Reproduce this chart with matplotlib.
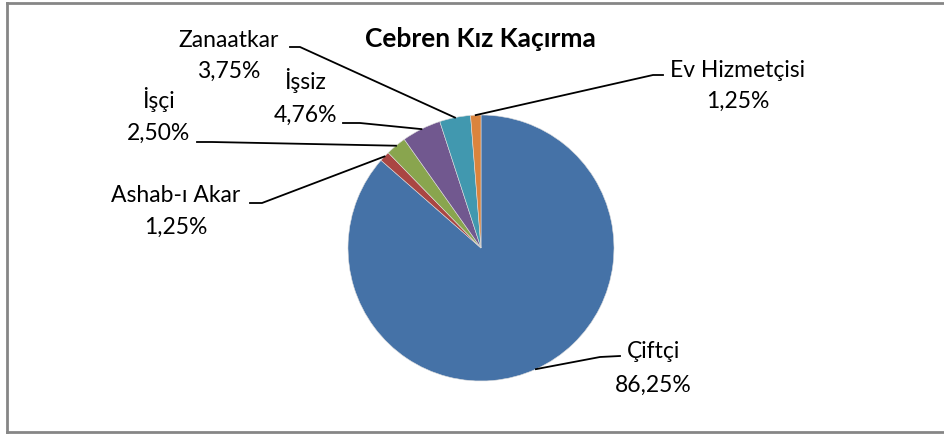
import numpy as np
import matplotlib
matplotlib.use("Agg")
import matplotlib.pyplot as plt
from matplotlib.lines import Line2D

# ---- data ----
categories = ["Çiftçi", "Ashab-ı Akar", "İşçi", "İşsiz", "Zanaatkar", "Ev Hizmetçisi"]
values = [86.25, 1.25, 2.50, 4.76, 3.75, 1.25]
colors = ["#4572A7", "#AA4643", "#89A54E", "#71588F", "#4198AF", "#DB843D"]
title = "Cebren Kız Kaçırma"

W, H = 944, 434
fig = plt.figure(figsize=(W / 100, H / 100), dpi=100)
FONT = "Lato"
FS = 16.5

# pie axes: centre (481, 248) px from top-left, radius 133 px
cx, cy, r = 481, 248, 133
ax = fig.add_axes([(cx - r) / W, (H - cy - r) / H, 2 * r / W, 2 * r / H])
wedges, _ = ax.pie(values, colors=colors, startangle=90, counterclock=False,
                   radius=1.0, wedgeprops=dict(linewidth=0.4, edgecolor="#dddddd"))
ax.set_xlim(-1, 1)
ax.set_ylim(-1, 1)
ax.set_aspect("equal")
ax.axis("off")

def fx(px):
    return px / W

def fy(py):
    return 1 - py / H

# label layout (pixel positions: centre x, baseline of name, baseline of pct, leader start, elbow)
layout = {
    "Çiftçi":        dict(x=653, y1=358, y2=392, start=(620, 356), elbow=(600, 357)),
    "Ashab-ı Akar":  dict(x=176, y1=202, y2=234, start=(250, 203), elbow=(262, 203)),
    "İşçi":          dict(x=158, y1=108, y2=140, start=(197, 142), elbow=(212, 142)),
    "İşsiz":         dict(x=305, y1=89,  y2=122, start=(343, 123), elbow=(360, 123)),
    "Zanaatkar":     dict(x=229, y1=47,  y2=78,  start=(290, 47),  elbow=(300, 47)),
    "Ev Hizmetçisi": dict(x=738, y1=77,  y2=108, start=(663, 75),  elbow=(653, 75)),
}

for w, cat, v in zip(wedges, categories, values):
    L = layout[cat]
    fig.text(fx(L["x"]), fy(L["y1"]), cat, ha="center", va="baseline",
             fontsize=FS, family=FONT, color="black")
    pct = f"{v:.2f}".replace(".", ",") + "%"
    fig.text(fx(L["x"]), fy(L["y2"]), pct, ha="center", va="baseline",
             fontsize=FS, family=FONT, color="black")
    # anchor on wedge edge at mid angle
    ang = np.deg2rad((w.theta1 + w.theta2) / 2)
    px, py = ax.transData.transform((np.cos(ang), np.sin(ang)))
    ax_x, ax_y = fig.transFigure.inverted().transform((px, py))
    xs = [fx(L["start"][0]), fx(L["elbow"][0]), ax_x]
    ys = [fy(L["start"][1]), fy(L["elbow"][1]), ax_y]
    fig.add_artist(Line2D(xs, ys, color="black", linewidth=1.3,
                          transform=fig.transFigure))

fig.text(fx(480), fy(47), title, ha="center", va="baseline",
         fontsize=19, fontweight="bold", family=FONT, color="black")

# chart border (left, top, bottom visible)
bc = "#868686"
fig.add_artist(Line2D([fx(7), fx(7)], [fy(3), fy(432)], color=bc, linewidth=2, transform=fig.transFigure))
fig.add_artist(Line2D([fx(7), fx(944)], [fy(3), fy(3)], color=bc, linewidth=2, transform=fig.transFigure))
fig.add_artist(Line2D([fx(7), fx(944)], [fy(432), fy(432)], color=bc, linewidth=2, transform=fig.transFigure))

fig.savefig("out.png", dpi=100, facecolor="white")
